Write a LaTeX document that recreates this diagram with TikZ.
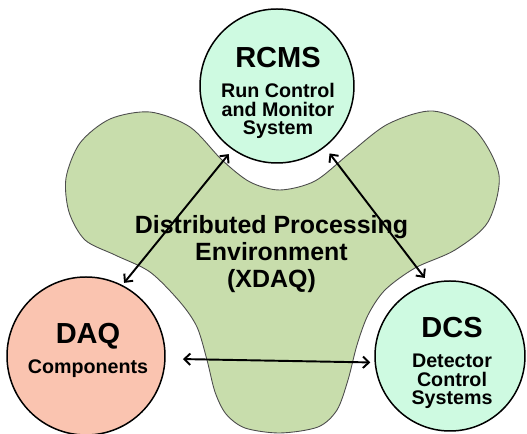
\documentclass[tikz,border=0pt]{standalone}
\usepackage{fontspec}
\setmainfont{Liberation Sans}
\usetikzlibrary{arrows.meta}
\definecolor{blobgreen}{RGB}{200,221,172}
\definecolor{mint}{RGB}{206,250,225}
\definecolor{salmon}{RGB}{250,196,176}
\newcommand\sysname{\fontsize{16.5}{18}\selectfont}

\begin{document}
\begin{tikzpicture}[scale=0.2,
  sys/.style={circle, draw=black, line width=0.85pt, inner sep=0pt, outer sep=0pt},
  ttl/.style={anchor=north, inner sep=0pt, align=center, font=\bfseries\fontsize{11.2}{10.5}\selectfont},
  link/.style={<->, >={Straight Barb[length=3.4pt,width=6.5pt]}, line width=1.1pt}]
\useasboundingbox (0,0) rectangle (52.7,-43.4);
% the XDAQ environment
\draw [fill=blobgreen, draw=black!70, line width=0.5pt] plot [smooth cycle] coordinates {
  (15,-11.2) (19,-12.7) (22.2,-16) (25,-18.2) (28,-19) (31.5,-18.1) (35,-15.3)
  (38.8,-12.4) (43.3,-11.1) (47.5,-13) (49.9,-17.5) (48.8,-22.2) (45.5,-25)
  (41.5,-26.8) (38.5,-29) (36.8,-31.5) (35.7,-34.5) (34.8,-38) (33.7,-41)
  (31.8,-42.7) (28,-43.3) (24.5,-42.8) (22.6,-41.4) (21.5,-39.2) (20.7,-36)
  (19.7,-32.7) (18,-30.2) (15,-27.2) (11.5,-25.5) (8.5,-24) (6.9,-21.2)
  (6.6,-17.8) (8,-14.3) (11,-11.9)};
% the three systems
\node [sys, fill=mint, minimum size=3.08cm] (rcms) at (27.7,-8.6) {};
\node [sys, fill=salmon, minimum size=3.16cm] (daq) at (8.6,-35.6) {};
\node [sys, fill=mint, minimum size=3.0cm] (dcs) at (45.0,-35.6) {};
\node [ttl] (rcmstext) at (27.8,-4.7) {{\sysname RCMS}\\[6.6pt]Run Control\\and Monitor\\System};
\node [ttl] (daqtext) at (8.8,-32.3) {{\sysname DAQ}\\[4.9pt]Components};
\node [ttl] (dcstext) at (45.2,-31.7) {{\sysname DCS}\\[6.6pt]Detector\\Control\\Systems};
\node [ttl, font=\bfseries\fontsize{14.2}{15.4}\selectfont] (xdaq) at (27.15,-21.5)
  {Distributed Processing\\Environment\\(XDAQ)};
% links
\draw [link, shorten <=0.13cm, shorten >=0.07cm] (rcms.235.7) -- (daq.63.4);
\draw [link, shorten <=0.17cm, shorten >=0.15cm] (rcms.308.3) -- (dcs.106.2);
\draw [link, shorten <=0.36cm, shorten >=0.1cm] (daq.358.2) -- (dcs.185);
\end{tikzpicture}
\end{document}
